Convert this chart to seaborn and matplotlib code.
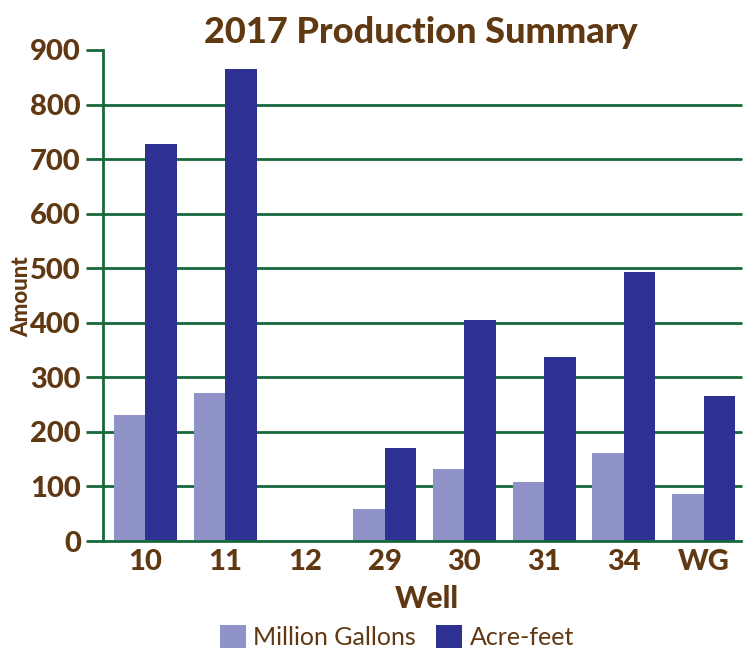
import pandas as pd
import matplotlib.pyplot as plt
import seaborn as sns

# valori
wells = ['10', '11', '12', '29', '30', '31', '34', 'WG']
million_gallons = [231, 271, 0, 59, 132, 108, 161, 86]
acre_feet = [727, 866, 0, 170, 405, 337, 493, 266]

brown = '#603913'
green = '#17693b'
colors = ['#8f93c7', '#2e3192']

df = pd.DataFrame({
    'Well': wells * 2,
    'Amount': million_gallons + acre_feet,
    'Serie': ['Million Gallons'] * len(wells) + ['Acre-feet'] * len(wells),
})

sns.set_style('white')
plt.rcParams['font.family'] = ['Lato', 'DejaVu Sans']

fig = plt.figure(figsize=(7.45, 6.53), dpi=100)
ax = fig.add_axes([103 / 745, 112 / 653, 642 / 745, 491 / 653])

sns.barplot(data=df, x='Well', y='Amount', hue='Serie', palette=colors,
            width=0.79, saturation=1, ax=ax, linewidth=0)

ax.set_ylim(0, 900)
ax.set_xlim(-0.53, 7.52)
ax.set_yticks(range(0, 1000, 100))
for y in range(100, 900, 100):
    ax.axhline(y, xmax=638 / 642, color=green, lw=2, zorder=0)
ax.tick_params(axis='y', length=12, width=2, color=green, labelcolor=brown,
               labelsize=21, pad=4, left=True)
ax.tick_params(axis='x', length=0, labelcolor=brown, labelsize=21, pad=6)
for lab in ax.get_yticklabels() + ax.get_xticklabels():
    lab.set_fontweight('black')

for s in ['top', 'right']:
    ax.spines[s].set_visible(False)
for s in ['left', 'bottom']:
    ax.spines[s].set_color(green)
    ax.spines[s].set_linewidth(2)
ax.spines['bottom'].set_bounds(-0.53, 7.47)

ax.set_xlabel('Well', color=brown, fontsize=22, fontweight='black')
ax.xaxis.set_label_coords(0.505, -0.09)
ax.set_ylabel('')
fig.text(22 / 745, 0.545, 'Amount', rotation=90, ha='center', va='center',
         color=brown, fontsize=16, fontweight='black')

fig.text(0.565, 0.950, '2017 Production Summary', ha='center', va='center',
         color=brown, fontsize=26, fontweight='black')

ax.legend(loc='center', bbox_to_anchor=(0.458, -0.195), ncol=2, frameon=False,
          fontsize=18, labelcolor=brown, handlelength=1.05, handleheight=1.05,
          handletextpad=0.3, columnspacing=0.8)

fig.savefig('out.png', dpi=100)
